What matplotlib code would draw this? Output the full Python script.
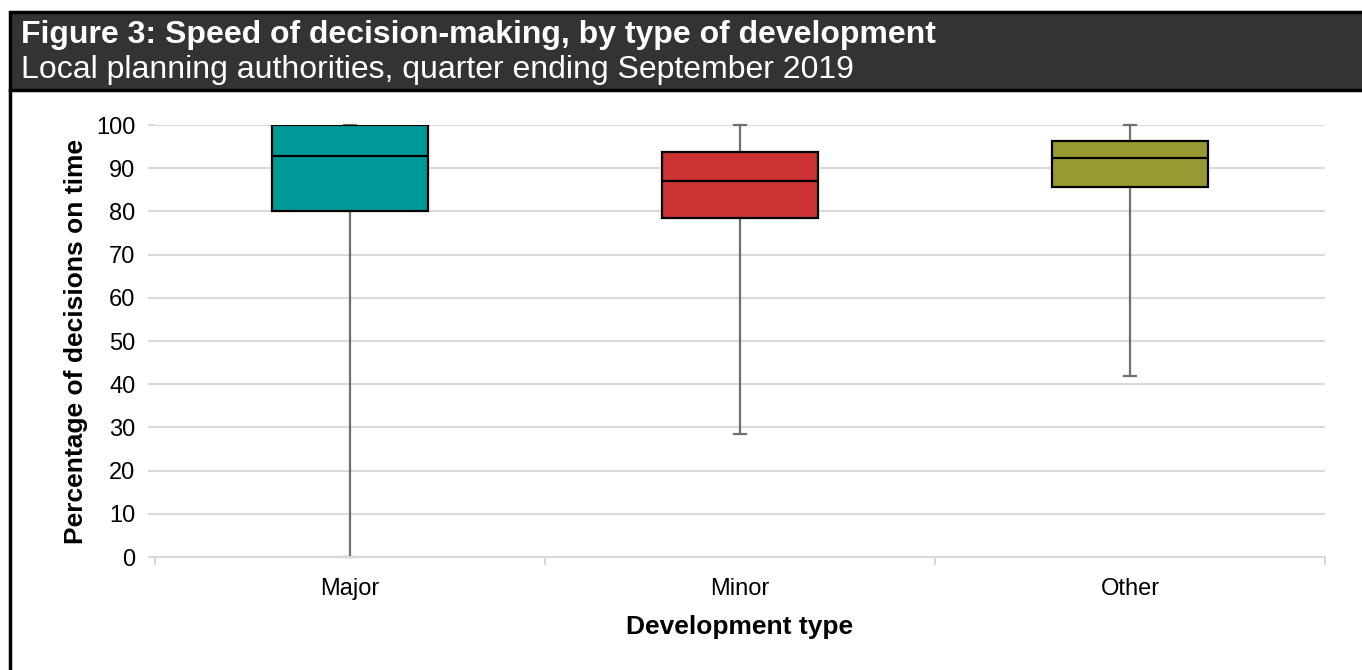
import matplotlib
matplotlib.use("Agg")
import matplotlib.pyplot as plt
from matplotlib.patches import Rectangle
from matplotlib.lines import Line2D

plt.rcParams['font.family'] = ['Liberation Sans', 'DejaVu Sans']

# ----------------------------
# Data
# ----------------------------
categories = ["Major", "Minor", "Other"]
whisker_low = [0.0, 28.5, 42.0]
q1 = [80.0, 78.5, 85.6]
median = [92.9, 87.1, 92.3]
q3 = [100.0, 93.7, 96.4]
whisker_high = [100.0, 100.0, 100.0]
box_colors = ["#009999", "#CC3333", "#999933"]

W, H = 1362, 670


def main():
    fig = plt.figure(figsize=(W / 100, H / 100), dpi=100)

    # header band
    hdr = Rectangle((9.5 / W, 1 - 90 / H), 1.0, 78 / H,
                    transform=fig.transFigure, facecolor="#333333",
                    edgecolor="black", linewidth=2.5, clip_on=False)
    fig.patches.append(hdr)
    fig.lines.append(Line2D([9.5 / W, 9.5 / W], [0, 1 - 90 / H],
                            transform=fig.transFigure, color="black",
                            linewidth=2.5))
    fig.text(21 / W, 1 - 35 / H,
             "Figure 3: Speed of decision-making, by type of development",
             color="white", fontsize=23, fontweight="bold", va="center")
    fig.text(21 / W, 1 - 70 / H,
             "Local planning authorities, quarter ending September 2019",
             color="white", fontsize=23, va="center")

    ax = fig.add_axes([155 / W, 1 - 557 / H, 1170 / W, 432 / H])

    stats = []
    for i, name in enumerate(categories):
        stats.append({
            "label": name,
            "whislo": whisker_low[i],
            "q1": q1[i],
            "med": median[i],
            "q3": q3[i],
            "whishi": whisker_high[i],
            "fliers": [],
        })

    bp = ax.bxp(stats, positions=range(len(categories)), widths=0.4,
                patch_artist=True, showfliers=False,
                boxprops=dict(edgecolor="black", linewidth=1.6),
                medianprops=dict(color="black", linewidth=1.6),
                whiskerprops=dict(color="#707070", linewidth=1.6),
                capprops=dict(color="#707070", linewidth=1.6),
                capwidths=0.03)
    for patch, c in zip(bp["boxes"], box_colors):
        patch.set_facecolor(c)
        patch.set_zorder(3)
    for artist in bp["whiskers"] + bp["caps"]:
        artist.set_zorder(2.5)
        artist.set_clip_on(False)
    for artist in bp["medians"]:
        artist.set_zorder(4)

    ax.set_xlim(-0.5, len(categories) - 0.5)
    ax.set_ylim(0, 100)
    ax.set_yticks(range(0, 101, 10))
    ax.yaxis.grid(True, color="#D9D9D9", linewidth=1.5)
    ax.set_axisbelow(True)

    # category labels at centres, boundary ticks between them
    ax.set_xticks(range(len(categories)))
    ax.set_xticklabels(categories, fontsize=17)
    ax.set_xticks([i - 0.5 for i in range(len(categories) + 1)], minor=True)
    ax.tick_params(axis="x", which="major", length=0, pad=15)
    ax.tick_params(axis="x", which="minor", length=6, width=1.5,
                   color="#D9D9D9")
    ax.tick_params(axis="y", length=5, width=1.5, color="#D9D9D9",
                   labelsize=17, pad=9)

    for side in ["left", "right", "top"]:
        ax.spines[side].set_visible(False)
    ax.spines["bottom"].set_color("#D9D9D9")
    ax.spines["bottom"].set_linewidth(1.5)

    ax.set_ylabel("Percentage of decisions on time", fontsize=19,
                  fontweight="bold", labelpad=6)
    ax.set_xlabel("Development type", fontsize=19, fontweight="bold",
                  labelpad=11)

    fig.savefig("out.png", dpi=100)


if __name__ == "__main__":
    main()
